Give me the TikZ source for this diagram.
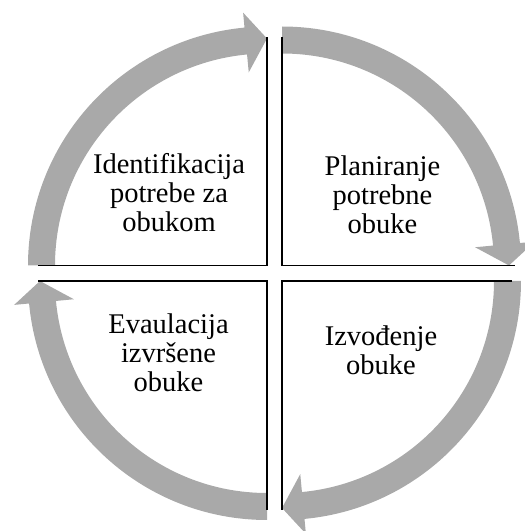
\documentclass[tikz,border=0pt]{standalone}
\usepackage{fontspec}
\setmainfont{Liberation Serif}
\definecolor{cyclegray}{RGB}{169,169,169}

\begin{document}
\begin{tikzpicture}[x=1pt, y=1pt,
    cyclearrow/.style={fill=cyclegray, draw=none},
    quadline/.style={draw=black, line width=1.6pt, line join=miter},
    steptext/.style={align=center, inner sep=0pt, font=\fontsize{28.5}{29}\selectfont}]
  \useasboundingbox (0, 0) rectangle (525, 531);
  \foreach \cx/\cy/\a in {267/265.5/180, 282/265.5/90, 282/250/0, 267/250/-90} {
    \fill[cyclearrow, shift={(\cx, \cy)}] (\a:239)
      arc[start angle=\a, delta angle=-84.6, radius=239] -- ({\a-84.6}:254)
      -- ({\a-90}:227) -- ({\a-84.6}:194) -- ({\a-84.6}:212)
      arc[start angle=\a-84.6, delta angle=84.6, radius=212] -- cycle;
  }
  \draw[quadline] (38, 265.5) -- (267, 265.5) -- (267, 494);
  \draw[quadline] (282, 494) -- (282, 265.5) -- (515, 265.5);
  \draw[quadline] (512, 250) -- (282, 250) -- (282, 21);
  \draw[quadline] (267, 21) -- (267, 250) -- (38, 250);

  \node[steptext] (identify) at (169, 338.7) {Identifikacija\\potrebe za\\obukom};
  \node[steptext] (plan) at (382.5, 336.6) {Planiranje\\potrebne\\obuke};
  \node[steptext] (evaluate) at (168.5, 178.2) {Evaulacija\\izvršene\\obuke};
  \node[steptext] (deliver) at (381, 180.7) {Izvođenje\\obuke};
\end{tikzpicture}
\end{document}
